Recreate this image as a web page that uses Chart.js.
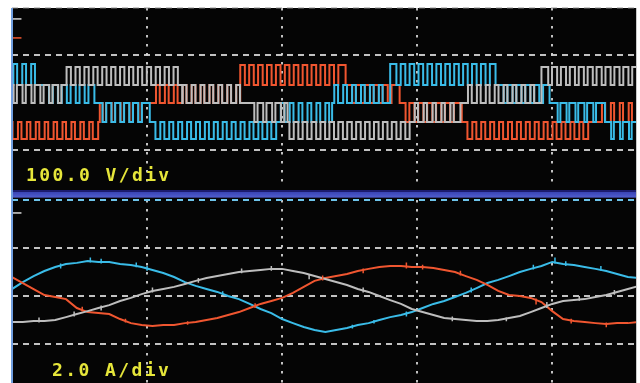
<!DOCTYPE html>
<html>
<head>
<meta charset="utf-8">
<script src="https://cdn.jsdelivr.net/npm/chart.js@4.4.1/dist/chart.umd.min.js"></script>
<style>
  body { margin: 0; background: #fff; }
  #scope { position: relative; width: 640px; height: 383px; overflow: hidden; background: #fff; }
  .screen { position: absolute; left: 12px; top: 8px; width: 624px; height: 375px; background: #050505; }
  .edge { position: absolute; left: 11px; top: 8px; width: 2px; height: 375px; background: #6f9ddf; }
  .rim { position: absolute; left: 636px; top: 8px; width: 1px; height: 375px; background: #c8c8c8; }
  .band { position: absolute; left: 12px; top: 190px; width: 624px; height: 8px;
          background: linear-gradient(#1c1c6e 0, #1c1c6e 2px, #3a44b4 2px, #4e5ccc 7px, #1a1a3a 8px); }
  canvas { position: absolute; left: 0; top: 0; }
  .lbl { position: absolute; font: bold 18px "DejaVu Sans Mono", monospace; line-height: 18px;
         color: #e6e63a; letter-spacing: 2.4px; white-space: pre; }
</style>
</head>
<body>
<div id="scope">
  <div class="screen"></div>
  <canvas id="volts" width="640" height="383"></canvas>
  <canvas id="amps" width="640" height="383"></canvas>
  <div class="band"></div>
  <div class="edge"></div>
  <div class="rim"></div>
  <div class="lbl" style="left:26px; top:166px;">100.0 V/div</div>
  <div class="lbl" style="left:52px; top:361px;">2.0 A/div</div>
</div>
<script>
// time axis in ms, 5 ms/div
const xMax = 23.1;
const gridX = [5, 10, 15, 20];
const gridV = [-100, 100, 200];      // 100 V/div (centre line hidden by traces)
const gridA = [-2, 0, 2, 4];         // 2 A/div

// channel markers at the left edge
const markV = [177, 137];
const markA = [3.46];

// PWM carrier instants (ms)
const pwmT = [0.12, 0.45, 0.78, 1.11, 1.44, 1.77, 2.10, 2.43, 2.76, 3.09,
  3.42, 3.75, 4.08, 4.41, 4.74, 5.07, 5.40, 5.73, 6.06, 6.39,
  6.72, 7.05, 7.38, 7.71, 8.04, 8.37, 8.70, 9.03, 9.36, 9.69,
  10.02, 10.35, 10.68, 11.01, 11.34, 11.67, 12.00, 12.33, 12.66, 12.99,
  13.32, 13.65, 13.98, 14.31, 14.64, 14.97, 15.30, 15.63, 15.96, 16.29,
  16.62, 16.95, 17.28, 17.61, 17.94, 18.27, 18.60, 18.93, 19.26, 19.59,
  19.92, 20.25, 20.58, 20.91, 21.24, 21.57, 21.90, 22.23, 22.56, 22.89];

// phase voltages: [start ms, base V, pulse V, pulse width ms]
const redSegs = [
  [0, -40, -76, 0.2],
  [3.25, 0, -40, 0.12],
  [5.1, 0, 38, 0.14],
  [8.45, 80, 38, 0.16],
  [12.35, 38, 0, 0.14],
  [14.35, 0, -40, 0.14],
  [16.65, -40, -76, 0.18],
  [21.6, -40, 0, 0.12]
];
const cyanSegs = [
  [0, 38, 82, 0.14],
  [1.05, 38, 0, 0.14],
  [3.05, 0, -40, 0.14],
  [5.1, -40, -76, 0.18],
  [9.9, -40, 0, 0.14],
  [11.85, 0, 38, 0.14],
  [14.0, 82, 38, 0.16],
  [17.9, 38, 0, 0.14],
  [19.9, 0, -40, 0.1],
  [21.95, -40, -76, 0.1]
];
const greySegs = [
  [0, 38, 0, 0.12],
  [1.85, 38, 76, 0.16],
  [6.3, 0, 38, 0.14],
  [8.75, 0, -40, 0.12],
  [10.2, -40, -76, 0.16],
  [14.75, -40, 0, 0.12],
  [16.6, 0, 38, 0.14],
  [19.6, 76, 38, 0.14]
];

// phase currents (A), sampled every 0.4 ms
const sampleT = [0, 0.4, 0.8, 1.2, 1.6, 2, 2.4, 2.8, 3.2, 3.6, 4, 4.4, 4.8, 5.2, 5.6,
  6, 6.4, 6.8, 7.2, 7.6, 8, 8.4, 8.8, 9.2, 9.6, 10, 10.4, 10.8, 11.2, 11.6,
  12, 12.4, 12.8, 13.2, 13.6, 14, 14.4, 14.8, 15.2, 15.6, 16, 16.4, 16.8, 17.2, 17.6,
  18, 18.4, 18.8, 19.2, 19.6, 20, 20.4, 20.8, 21.2, 21.6, 22, 22.4, 22.8, 23.2];
const cyanAmps = [0.29, 0.58, 0.83, 1.04, 1.21, 1.33, 1.38, 1.46, 1.42, 1.42,
  1.33, 1.29, 1.21, 1.08, 0.96, 0.79, 0.58, 0.42, 0.29, 0.17,
  0, -0.13, -0.33, -0.54, -0.71, -0.96, -1.13, -1.29, -1.42, -1.5,
  -1.42, -1.33, -1.21, -1.13, -1.0, -0.88, -0.79, -0.67, -0.5, -0.33,
  -0.21, -0.04, 0.13, 0.33, 0.54, 0.67, 0.83, 1.0, 1.13, 1.25,
  1.42, 1.33, 1.29, 1.21, 1.13, 1.04, 0.92, 0.79, 0.75];
const greyAmps = [-1.08, -1.08, -1.04, -1.04, -1.0, -0.88, -0.75, -0.63, -0.5, -0.38,
  -0.21, -0.08, 0.08, 0.21, 0.29, 0.38, 0.5, 0.63, 0.75, 0.83,
  0.92, 1.0, 1.04, 1.08, 1.13, 1.13, 1.04, 0.96, 0.83, 0.71,
  0.58, 0.46, 0.29, 0.17, 0, -0.17, -0.33, -0.54, -0.67, -0.79,
  -0.92, -0.96, -1.0, -1.04, -1.04, -1.0, -0.92, -0.83, -0.67, -0.5,
  -0.33, -0.21, -0.17, -0.13, -0.04, 0.04, 0.17, 0.29, 0.42];
const redAmps = [0.79, 0.54, 0.29, 0.04, -0.04, -0.13, -0.5, -0.67, -0.71, -0.75,
  -0.96, -1.13, -1.21, -1.25, -1.21, -1.21, -1.13, -1.08, -1.0, -0.92,
  -0.79, -0.67, -0.5, -0.33, -0.21, -0.08, 0.13, 0.38, 0.63, 0.75,
  0.83, 0.92, 1.04, 1.13, 1.21, 1.25, 1.25, 1.21, 1.21, 1.17,
  1.08, 1.0, 0.83, 0.67, 0.46, 0.21, 0.04, 0, -0.08, -0.25,
  -0.63, -0.96, -1.04, -1.08, -1.13, -1.17, -1.13, -1.13, -1.08];

// switching noise on the currents: [t ms, from A, to A]
const cyanTicks = [[1.8, 1.15, 1.35], [2.9, 1.4, 1.6], [3.3, 1.35, 1.55], [4.6, 1.2, 1.4],
  [5.0, 1.05, 1.25], [7.8, 0.05, 0.2], [12.6, -1.35, -1.2], [13.4, -1.15, -1.0],
  [14.6, -0.85, -0.65], [17.0, 0.15, 0.35], [19.3, 1.1, 1.3], [20.1, 1.35, 1.6],
  [20.5, 1.25, 1.45], [21.8, 1.05, 1.25]];
const greyTicks = [[1.0, -1.1, -0.9], [2.3, -0.85, -0.65], [3.3, -0.6, -0.4], [5.2, 0.15, 0.35],
  [6.9, 0.55, 0.75], [8.5, 0.95, 1.15], [9.6, 1.05, 1.25], [11.0, 0.7, 0.9],
  [13.0, 0.15, 0.35], [16.3, -1.05, -0.85], [18.3, -1.05, -0.9], [19.8, -0.5, -0.25],
  [21.0, -0.2, 0.0], [22.3, 0.05, 0.25]];
const redTicks = [[2.6, -0.65, -0.45], [4.2, -1.1, -0.95], [6.5, -1.2, -1.05], [9.0, -0.5, -0.3],
  [11.5, 0.65, 0.85], [13.0, 0.95, 1.15], [14.6, 1.15, 1.4], [15.2, 1.1, 1.3],
  [16.6, 0.85, 1.05], [19.4, -0.35, -0.1], [20.7, -1.15, -0.95], [22.0, -1.3, -1.1]];

const RED = 'rgb(240, 86, 48)';
const CYAN = 'rgb(58, 188, 232)';
const GREY = 'rgb(190, 190, 190)';
const DOTS = 'rgba(215, 215, 215, 0.9)';

function pwmPoints(segs) {
  const pts = [];
  segs.forEach(([t0, base, pulse, w], i) => {
    const t1 = i + 1 < segs.length ? segs[i + 1][0] : xMax;
    pts.push({ x: t0, y: base });
    pwmT.filter(t => t - w / 2 > t0 && t + w / 2 < t1).forEach(t => {
      pts.push({ x: t - w / 2, y: pulse }, { x: t + w / 2, y: base });
    });
  });
  pts.push({ x: xMax, y: segs[segs.length - 1][1] });
  return pts;
}

function wave(amps, color) {
  return { data: sampleT.map((t, i) => ({ x: t, y: amps[i] })), borderColor: color, borderWidth: 2, pointRadius: 0 };
}

function ticks(list, color) {
  return {
    data: list.flatMap(([t, a, b]) => [{ x: t, y: a }, { x: t, y: b }, { x: t, y: null }]),
    borderColor: color, borderWidth: 1.5, pointRadius: 0, spanGaps: false
  };
}

function marker(v, color) {
  return { data: [{ x: 0, y: v }, { x: 0.35, y: v }], borderColor: color, borderWidth: 1.5, pointRadius: 0 };
}

function scopeOptions(pad, yMin, yMax, yGrid, topColor) {
  return {
    responsive: false,
    animation: false,
    devicePixelRatio: 1,
    layout: { padding: pad, autoPadding: false },
    plugins: { legend: { display: false }, tooltip: { enabled: false } },
    scales: {
      x: {
        type: 'linear', min: 0, max: xMax,
        afterBuildTicks: s => { s.ticks = gridX.map(v => ({ value: v })); },
        afterFit: s => { s.height = 0; },
        ticks: { display: false },
        border: { display: false, dash: [2.5, 6.5] },
        grid: { color: DOTS, lineWidth: 2, drawTicks: false }
      },
      y: {
        type: 'linear', min: yMin, max: yMax,
        afterBuildTicks: s => { s.ticks = yGrid.map(v => ({ value: v })); },
        afterFit: s => { s.width = 0; },
        ticks: { display: false },
        border: { display: false, dash: [6, 5] },
        grid: {
          color: c => c.tick && c.tick.value === yMax ? topColor : DOTS,
          lineWidth: 2, drawTicks: false
        }
      }
    }
  };
}

new Chart(document.getElementById('volts'), {
  type: 'line',
  data: {
    datasets: [
      marker(markV[0], '#d8d8d8'),
      marker(markV[1], RED),
      { data: pwmPoints(greySegs), borderColor: GREY, borderWidth: 2, pointRadius: 0, stepped: 'before' },
      { data: pwmPoints(cyanSegs), borderColor: CYAN, borderWidth: 2, pointRadius: 0, stepped: 'before' },
      { data: pwmPoints(redSegs), borderColor: RED, borderWidth: 2, pointRadius: 0, stepped: 'before' }
    ]
  },
  options: scopeOptions({ left: 12, right: 4, top: 8, bottom: 195 }, -179, 200, gridV, 'rgba(140,140,140,0.45)')
});

new Chart(document.getElementById('amps'), {
  type: 'line',
  data: {
    datasets: [
      marker(markA[0], '#d8d8d8'),
      ticks(greyTicks, GREY),
      ticks(redTicks, RED),
      ticks(cyanTicks, CYAN),
      wave(greyAmps, GREY),
      wave(redAmps, RED),
      wave(cyanAmps, CYAN)
    ]
  },
  options: scopeOptions({ left: 12, right: 4, top: 200, bottom: 0 }, -3.625, 4, gridA, 'rgb(110, 196, 235)')
});
</script>
</body>
</html>
